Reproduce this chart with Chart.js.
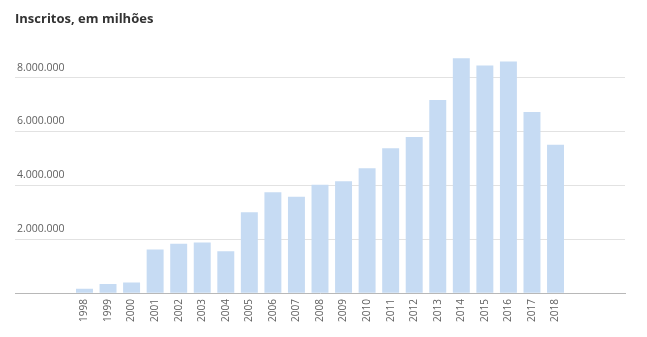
<!DOCTYPE html>
<html>
<head>
<meta charset="utf-8">
<script src="https://cdn.jsdelivr.net/npm/chart.js@4.4.0/dist/chart.umd.min.js"></script>
<style>
html,body{margin:0;padding:0;background:#fff;}
canvas{display:block;}
</style>
</head>
<body>
<canvas id="c" width="647" height="337"></canvas>
<script>
const categories = ['1998','1999','2000','2001','2002','2003','2004','2005','2006','2007','2008','2009','2010','2011','2012','2013','2014','2015','2016','2017','2018'];
const inscritos = [160000, 340000, 390000, 1620000, 1830000, 1880000, 1550000, 3000000, 3740000, 3580000, 4020000, 4150000, 4630000, 5380000, 5790000, 7170000, 8720000, 8450000, 8600000, 6720000, 5510000];
const yTicks = [0, 2000000, 4000000, 6000000, 8000000];
const titleText = 'Inscritos, em milhões';

function fmt(v){ return String(v).replace(/\B(?=(\d{3})+(?!\d))/g, '.'); }

new Chart(document.getElementById('c'), {
  type: 'bar',
  data: {
    datasets: [{
      data: categories.map((c, i) => ({x: Number(c), y: inscritos[i]})),
      backgroundColor: '#c6dbf3',
      borderWidth: 0,
      categoryPercentage: 0.8,
      barPercentage: 0.9
    }]
  },
  options: {
    responsive: false,
    animation: false,
    devicePixelRatio: 1,
    layout: {padding: {left: 15, right: 22, top: 0, bottom: 9}},
    plugins: {
      legend: {display: false},
      tooltip: {enabled: false},
      title: {
        display: true,
        text: titleText,
        align: 'start',
        color: '#333333',
        font: {family: 'Open Sans', size: 13, weight: 'bold'},
        padding: {top: 11, bottom: 24}
      }
    },
    scales: {
      x: {
        type: 'linear',
        min: 1995.05,
        max: 2020.95,
        offset: false,
        afterBuildTicks: (s) => { s.ticks = categories.map(c => ({value: Number(c)})); },
        grid: {display: false, drawTicks: false},
        border: {display: true, color: '#b8b8b8', width: 1},
        ticks: {
          autoSkip: false,
          minRotation: 90,
          maxRotation: 90,
          padding: 6,
          color: '#606060',
          font: {family: 'Open Sans', size: 10},
          callback: (v) => String(v)
        }
      },
      y: {
        min: 0,
        max: 9000000,
        afterBuildTicks: (s) => { s.ticks = yTicks.map(v => ({value: v})); },
        afterFit: (s) => { s.width = 0; },
        grid: {
          drawTicks: false,
          color: (ctx) => ctx.tick && ctx.tick.value === 0 ? 'rgba(0,0,0,0)' : '#e2e2e2',
          lineWidth: 1
        },
        border: {display: false},
        ticks: {
          mirror: true,
          padding: 2,
          labelOffset: -10,
          color: '#606060',
          font: {family: 'Open Sans', size: 10.5},
          callback: (v) => v === 0 ? '' : fmt(v)
        }
      }
    }
  }
});
</script>
</body>
</html>
